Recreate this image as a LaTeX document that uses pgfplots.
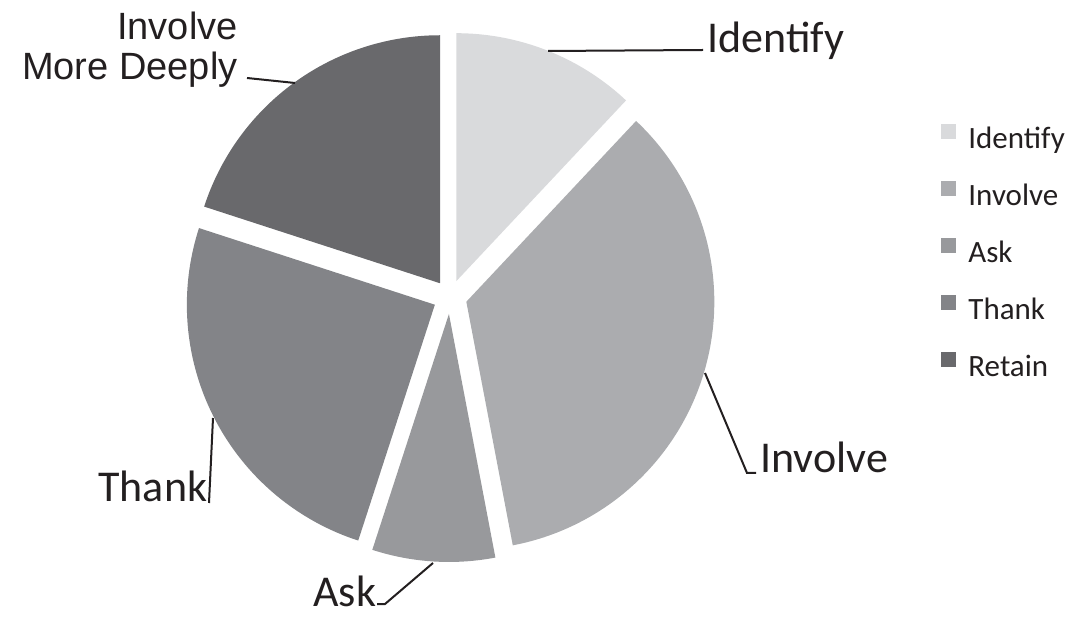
\documentclass[border=0pt]{standalone}
\usepackage{pgfplots}
\usepackage{pgfplotstable}
\pgfplotsset{compat=1.18}
\usepackage{fontspec}
\setmainfont{Carlito}
\newfontfamily\arialf{Liberation Sans}
\definecolor{cIdentify}{HTML}{D9DADC}
\definecolor{cInvolve}{HTML}{ABACAF}
\definecolor{cAsk}{HTML}{98999C}
\definecolor{cThank}{HTML}{838488}
\definecolor{cRetain}{HTML}{69696C}
\definecolor{ink}{HTML}{231F20}

\pgfplotstableread{
label value
Identify 12
Involve 35
Ask 8
Thank 25
Retain 20
}\piedata

\begin{document}
\begin{tikzpicture}
\pgfplotstablegetelem{0}{value}\of\piedata \let\vA\pgfplotsretval
\pgfplotstablegetelem{1}{value}\of\piedata \let\vB\pgfplotsretval
\pgfplotstablegetelem{2}{value}\of\piedata \let\vC\pgfplotsretval
\pgfplotstablegetelem{3}{value}\of\piedata \let\vD\pgfplotsretval
\pgfplotstablegetelem{4}{value}\of\piedata \let\vE\pgfplotsretval
% angles (clockwise from 90 deg)
\pgfmathsetmacro\aA{90}
\pgfmathsetmacro\aB{\aA-3.6*\vA}
\pgfmathsetmacro\aC{\aB-3.6*\vB}
\pgfmathsetmacro\aD{\aC-3.6*\vC}
\pgfmathsetmacro\aE{\aD-3.6*\vD}
\pgfmathsetmacro\aF{\aE-3.6*\vE}
% pie centre, radius, explode distance (pixel units)
\def\cx{450}\def\cy{319}\def\R{248}\def\d{17}
\pgfmathsetmacro\xA{\cx+\d*cos((\aA+\aB)/2)}\pgfmathsetmacro\yA{\cy+\d*sin((\aA+\aB)/2)}
\pgfmathsetmacro\xB{\cx+\d*cos((\aB+\aC)/2)}\pgfmathsetmacro\yB{\cy+\d*sin((\aB+\aC)/2)}
\pgfmathsetmacro\xC{\cx+\d*cos((\aC+\aD)/2)}\pgfmathsetmacro\yC{\cy+\d*sin((\aC+\aD)/2)}
\pgfmathsetmacro\xD{\cx+\d*cos((\aD+\aE)/2)}\pgfmathsetmacro\yD{\cy+\d*sin((\aD+\aE)/2)}
\pgfmathsetmacro\xE{\cx+\d*cos((\aE+\aF)/2)}\pgfmathsetmacro\yE{\cy+\d*sin((\aE+\aF)/2)}
\begin{axis}[
  width=538pt, height=308pt, scale only axis,
  xmin=0, xmax=1076, ymin=0, ymax=616,
  hide axis, clip=false,
  legend cell align=left,
  legend image code/.code={\fill[#1] (0pt,0.5pt) rectangle (7.5pt,8pt);},
  legend style={draw=none, fill=none, inner sep=0pt,
    at={(axis cs:941,492)}, anchor=north west,
    font=\fontsize{15.5pt}{18pt}\selectfont, text=ink,
    row sep=13.5pt,
    nodes={inner sep=0pt, text height=11pt, text depth=3pt},
    /tikz/every odd column/.append style={column sep=6pt}},
]
\path (rel axis cs:0,0) rectangle (rel axis cs:1,1);
\addplot[fill=cIdentify, draw=none, domain=\aB:\aA, samples=80, variable=\t]
  ({\xA+\R*cos(\t)},{\yA+\R*sin(\t)}) -- (axis cs:\xA,\yA) -- cycle;
\addlegendentry{Identify}
\addplot[fill=cInvolve, draw=none, domain=\aC:\aB, samples=120, variable=\t]
  ({\xB+\R*cos(\t)},{\yB+\R*sin(\t)}) -- (axis cs:\xB,\yB) -- cycle;
\addlegendentry{Involve}
\addplot[fill=cAsk, draw=none, domain=\aD:\aC, samples=60, variable=\t]
  ({\xC+\R*cos(\t)},{\yC+\R*sin(\t)}) -- (axis cs:\xC,\yC) -- cycle;
\addlegendentry{Ask}
\addplot[fill=cThank, draw=none, domain=\aE:\aD, samples=100, variable=\t]
  ({\xD+\R*cos(\t)},{\yD+\R*sin(\t)}) -- (axis cs:\xD,\yD) -- cycle;
\addlegendentry{Thank}
\addplot[fill=cRetain, draw=none, domain=\aF:\aE, samples=100, variable=\t]
  ({\xE+\R*cos(\t)},{\yE+\R*sin(\t)}) -- (axis cs:\xE,\yE) -- cycle;
\addlegendentry{Retain}
% leader lines
\addplot[ink, line width=1pt, forget plot] coordinates {(548,565) (703,566)};
\addplot[ink, line width=1pt, forget plot] coordinates {(705,243) (747,143) (756,143)};
\addplot[ink, line width=1pt, forget plot] coordinates {(433,53) (385,12) (377,12)};
\addplot[ink, line width=1pt, forget plot] coordinates {(213,198) (209,113)};
\addplot[ink, line width=1pt, forget plot] coordinates {(295,533) (247,538)};
% labels
\node[anchor=base west, inner sep=0pt, text=ink, font=\fontsize{22pt}{26pt}\selectfont] at (axis cs:707,563) {Identify};
\node[anchor=base west, inner sep=0pt, text=ink, font=\fontsize{22pt}{26pt}\selectfont] at (axis cs:760,143) {Involve};
\node[anchor=base west, inner sep=0pt, text=ink, font=\fontsize{22pt}{26pt}\selectfont] at (axis cs:313,10) {Ask};
\node[anchor=base west, inner sep=0pt, text=ink, font=\fontsize{22pt}{26pt}\selectfont] at (axis cs:98,114) {Thank};
\node[anchor=base east, inner sep=0pt, text=ink, font=\arialf\fontsize{19pt}{22pt}\selectfont] at (axis cs:238,576) {Involve};
\node[anchor=base east, inner sep=0pt, text=ink, font=\arialf\fontsize{19pt}{22pt}\selectfont] at (axis cs:238,536) {More Deeply};
\end{axis}
\end{tikzpicture}
\end{document}
